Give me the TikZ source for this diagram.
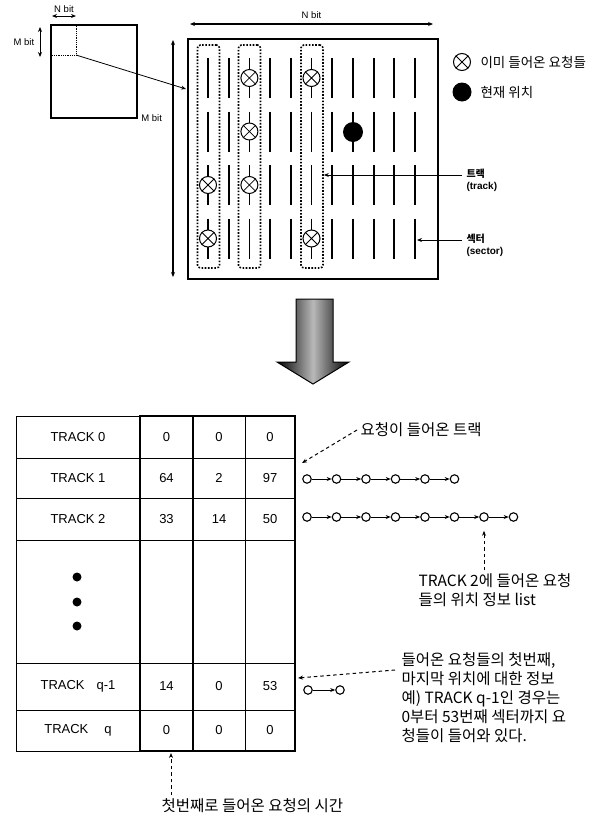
\documentclass[tikz,border=0pt]{standalone}
\usepackage{fontspec}
\setmainfont{Liberation Sans}
\newfontfamily\kr{Noto Sans CJK KR}
\usetikzlibrary{arrows.meta,calc,positioning,shapes.geometric}

\tikzset{
  req/.style={circle,draw,line width=1pt,fill=white,minimum size=17pt,inner sep=0pt},
  cur/.style={circle,fill=black,minimum size=20pt,inner sep=0pt},
  lnode/.style={circle,draw,line width=1.1pt,fill=white,minimum size=8.5pt,inner sep=0pt},
  sec/.style={line width=1.8pt},
  tbox/.style={draw,line width=1.6pt,dash pattern=on 1.6pt off 1.6pt,rounded corners=3pt,minimum width=22pt,minimum height=223pt,inner sep=0pt},
  lead/.style={->,line width=1pt,dash pattern=on 3.5pt off 3pt},
  small/.style={font=\fontsize{9.5}{11}\selectfont},
  cell/.style={font=\fontsize{13}{15}\selectfont},
  krtxt/.style={font=\kr\fontsize{15.5}{19}\selectfont,align=left},
  tag/.style={font=\fontsize{10}{12}\selectfont\bfseries,align=left},
}

\begin{document}
\begin{tikzpicture}[x=1pt,y=-1pt,>={Stealth[length=5pt,width=4pt]}]
  \useasboundingbox (0,0) rectangle (595,817);
  % memory map and one block of it
  \node[draw,line width=1.6pt,minimum width=86pt,minimum height=93pt,anchor=north west,inner sep=0pt] (mem) at (50,24) {};
  \draw[line width=0.8pt,densely dotted] (76,24) -- (76,55) -- (50,55);
  \coordinate (blk) at (76,55);
  \coordinate (nl) at (52,16); \coordinate (nr) at (76,16);
  \draw[<->,line width=1pt] (nl) -- (nr) node[midway,above=0pt,small] (nbit) {N bit};
  \coordinate (mt) at (40,27); \coordinate (mb) at (40,57);
  \draw[<->,line width=1pt] (mt) -- (mb) node[midway,left=2pt,small] (mbit) {M bit};

  % the block, enlarged
  \node[draw,line width=2pt,minimum width=250pt,minimum height=240pt,anchor=north west,inner sep=0pt] (disk) at (187,38) {};
  \coordinate (hit) at (186,89);
  \draw[->,line width=0.8pt] (blk) -- (hit);
  \coordinate (dl) at (190,24); \coordinate (dr) at (433,24);
  \draw[<->,line width=1.4pt] (dl) -- (dr) node[midway,above=1pt,small] (nbig) {N bit};
  \coordinate (dt) at (173,40); \coordinate (db) at (173,277);
  \draw[<->,line width=1.4pt] (dt) -- (db) node[pos=0.33,left=7pt,small] (mbig) {M bit};

  \foreach \c in {0,...,10}
    \foreach \r in {0,...,3}
      \draw[sec] (208+20.7*\c,58+53.5*\r) -- ++(0,40);

  \node[tbox] (tb1) at (208.5,156.5) {};
  \node[tbox] (tb3) at (249.5,156.5) {};
  \node[tbox] (tb6) at (312,156.5) {};

  \foreach \n/\x/\y in {ra/208/185,rb/208/238.5,rc/249.4/78,rd/249.4/131.5,re/249.4/185,rf/311.5/78,rg/311.5/238.5} {
    \node[req] (\n) at (\x,\y) {};
    \draw[line width=0.8pt] (\n.north east) -- (\n.south west) (\n.north west) -- (\n.south east);
  }
  \node[cur] (now) at (353,132) {};

  \node[tag,anchor=west] (trk) at (463,180) {{\kr 트랙}\\(track)};
  \coordinate (trkend) at (462,175);
  \draw[->,line width=1pt] (trkend) -- (tb6.east |- trkend);
  \node[tag,anchor=west] (sct) at (463,245) {{\kr 섹터}\\(sector)};
  \coordinate (secend) at (462,240); \coordinate (lastsec) at (417,240);
  \draw[->,line width=1pt] (secend) -- (lastsec);

  % legend
  \node[req] (lgx) at (462,62) {};
  \draw[line width=0.8pt] (lgx.north east) -- (lgx.south west) (lgx.north west) -- (lgx.south east);
  \node[anchor=west,font=\kr\fontsize{13.5}{15}\selectfont] (lgxt) at (477,62) {이미 들어온 요청들};
  \node[cur,minimum size=19pt] (lgd) at (462,92) {};
  \node[anchor=west,font=\kr\fontsize{13.5}{15}\selectfont] (lgdt) at (477,92) {현재 위치};

  % big arrow
  \shade[left color=black,right color=black,middle color=gray!55,draw=black,line width=1pt]
    (296,299) -- (333,299) -- (333,362) -- (349,362) -- (313,384) -- (277,362) -- (296,362) -- cycle;

  % table
  \foreach \y in {416,458,498,540,663,710,751} \draw[line width=0.8pt] (16,\y) -- (295,\y);
  \foreach \x in {16,140,193,245,295} \draw[line width=0.8pt] (\x,416) -- (\x,751);
  \draw[line width=2pt] (140,416) rectangle (295,751);
  \draw[line width=2pt] (193,416) -- (193,751);

  \foreach \i/\t/\a/\b/\c/\y in {0/{TRACK 0}/0/0/0/437, 1/{TRACK 1}/64/2/97/478, 2/{TRACK 2}/33/14/50/519,
      4/{TRACK\hspace{12pt}q-1}/14/0/53/686.5, 5/{TRACK\hspace{16pt}q}/0/0/0/730.5} {
    \node[cell] (t\i) at (78,\y) {\t};
    \node[cell] (t\i a) at (166.5,\y) {\a};
    \node[cell] (t\i b) at (219,\y) {\b};
    \node[cell] (t\i c) at (270,\y) {\c};
  }
  \foreach \k/\y in {1/577,2/602,3/626}
    \node[circle,fill,minimum size=9pt,inner sep=0pt] (dot\k) at (77,\y) {};

  % request lists
  \foreach \k in {0,...,5} \node[lnode] (pa\k) at (307+29.5*\k,479) {};
  \foreach \k [count=\j] in {0,...,4} \draw[->,line width=0.9pt] (pa\k) -- (pa\j);
  \foreach \k in {0,...,7} \node[lnode] (pb\k) at (307+29.5*\k,517) {};
  \foreach \k [count=\j] in {0,...,6} \draw[->,line width=0.9pt] (pb\k) -- (pb\j);
  \node[lnode] (pc0) at (308,690) {};
  \node[lnode] (pc1) at (340,690) {};
  \draw[->,line width=0.9pt] (pc0) -- (pc1);

  % notes
  \node[krtxt,anchor=west] (trklbl) at (357,430) {요청이 들어온 트랙};
  \coordinate (tblr) at (302,463);
  \draw[lead] (trklbl.west) -- (tblr);

  \node[krtxt,anchor=north west] (lstlbl) at (415,570) {TRACK 2에 들어온 요청\\들의 위치 정보 list};
  \draw[lead,shorten >=9pt] (pb6 |- lstlbl.north) -- (pb6.south);

  \node[krtxt,anchor=north west] (qinfo) at (398,649) {들어온 요청들의 첫번째,\\마지막 위치에 대한 정보\\예) TRACK q-1인 경우는\\0부터 53번째 섹터까지 요\\청들이 들어와 있다.};
  \coordinate (tblq) at (298,678);
  \draw[lead] ($(qinfo.north west)+(-3,21)$) -- (tblq);

  \node[krtxt,anchor=west] (first) at (158,806) {첫번째로 들어온 요청의 시간};
  \coordinate (colb) at (171,753);
  \draw[lead] (colb |- first.north) -- (colb);
\end{tikzpicture}
\end{document}
